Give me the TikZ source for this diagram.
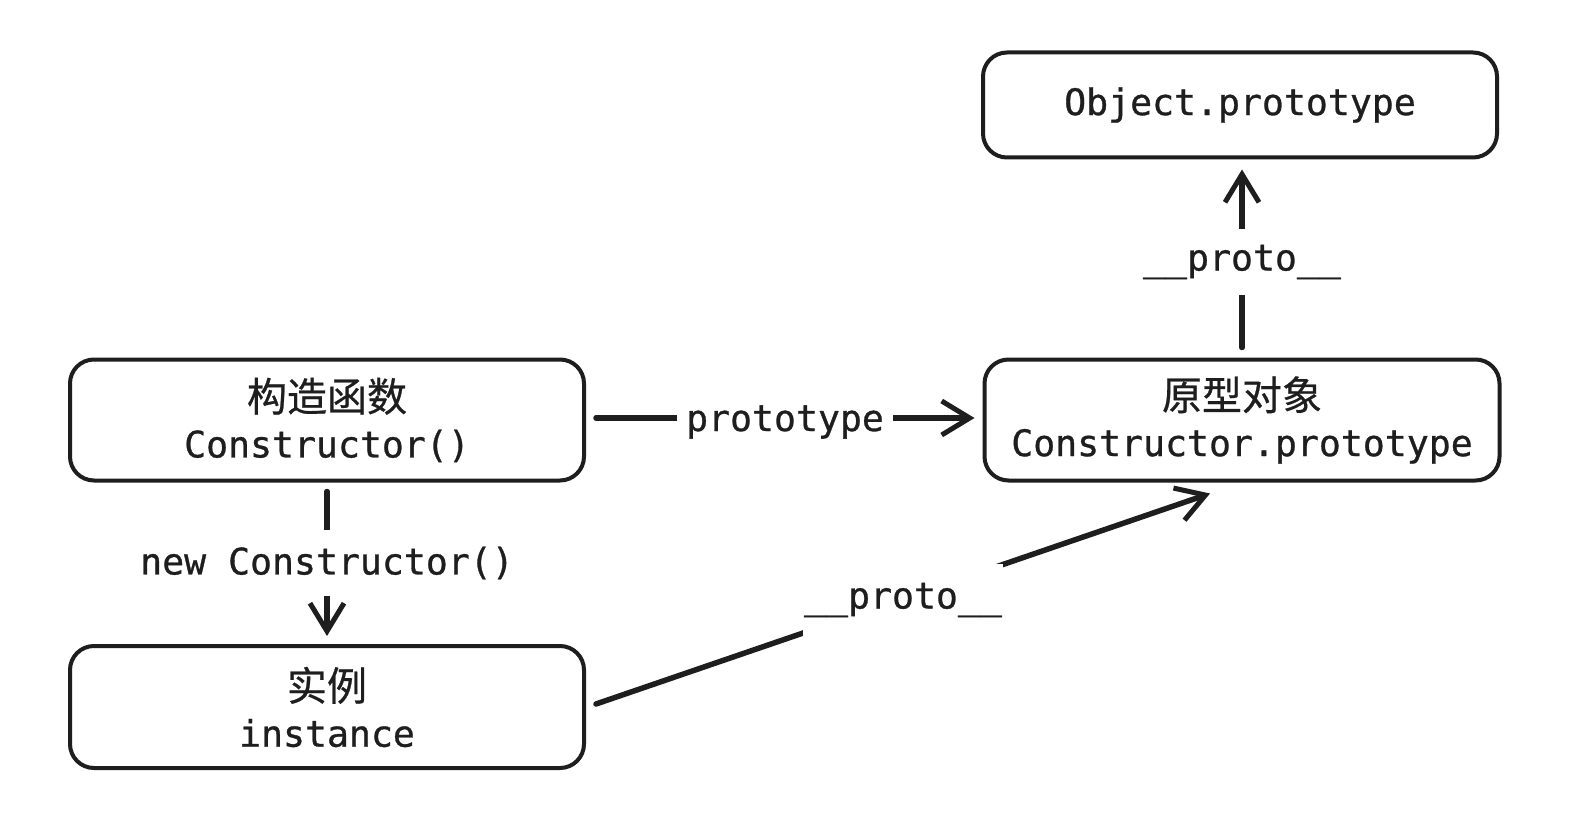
\documentclass[tikz,border=0pt]{standalone}
\usepackage{fontspec}
\setmonofont[FakeBold=0.8]{DejaVu Sans Mono}
\newfontfamily\cjk[FakeBold=0.6]{Noto Sans CJK SC}
\usetikzlibrary{arrows.meta,calc}
\definecolor{ink}{HTML}{1E1E1E}
\begin{document}
\begin{tikzpicture}[x=1pt,y=-1pt,
  box/.style={draw=ink, line width=4pt, rounded corners=24pt, align=center,
    text=ink, inner sep=0pt, font=\fontsize{36.5}{50}\selectfont},
  conn/.style={draw=ink, line width=5.5pt, line cap=round,
    -{Straight Barb[length=28pt,width=34pt,line width=5pt]}},
  lbl/.style={fill=white, text=ink, inner sep=0pt, font=\fontsize{36.5}{42}\selectfont\ttfamily}]
\useasboundingbox (0,0) rectangle (1570,826);
\fill[white] (0,0) rectangle (1570,826);

\node[box, minimum width=514pt, minimum height=105pt] (obj) at (1240,105)
  {\ttfamily Object.prototype};
\node[box, minimum width=514pt, minimum height=121pt] (ctor) at (327,420)
  {{\cjk\fontsize{40}{50}\selectfont 构造函数}\\[-4pt]\ttfamily Constructor()};
\node[box, minimum width=515pt, minimum height=121pt] (proto) at (1242,420)
  {{\cjk\fontsize{40}{50}\selectfont 原型对象}\\[-4pt]\ttfamily Constructor.prototype};
\node[box, minimum width=514pt, minimum height=122pt] (inst) at (327,707)
  {{\cjk\fontsize{40}{50}\selectfont 实例}\\[-4pt]\ttfamily instance};

\coordinate (d1) at ($(inst.east)+(10,-3)$);
\coordinate (d2) at ($(proto.south)+(-32,11)$);

\draw[conn, shorten <=10pt, shorten >=8pt] ([yshift=2pt]ctor.east) -- ([yshift=2pt]proto.west);
\draw[conn, shorten <=9pt, shorten >=8pt] (ctor.south) -- (inst.north);
\draw[conn] (d1) -- (d2);
\draw[conn, shorten <=10pt, shorten >=10pt] (proto.north) -- (proto.north |- obj.south);

\node[lbl, inner xsep=9pt, inner ysep=6pt] (l1) at (785,422) {prototype};
\node[lbl, minimum height=66pt, inner xsep=4pt] (l2) at (327,563) {new Constructor()};
\node[lbl, minimum width=200pt, minimum height=72pt] (l3) at (903,600) {\_\_proto\_\_};
\node[lbl, minimum width=200pt, minimum height=66pt] (l4) at (1242,262) {\_\_proto\_\_};
\end{tikzpicture}
\end{document}
